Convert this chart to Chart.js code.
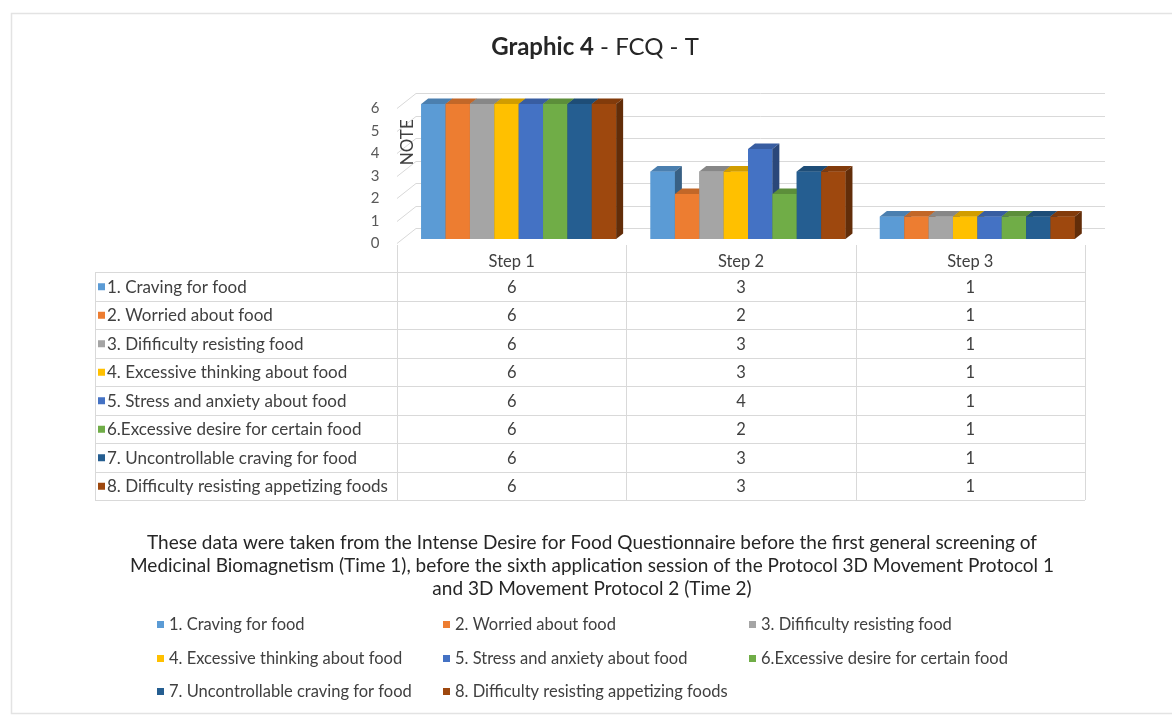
<!DOCTYPE html>
<html>
<head>
<meta charset="utf-8">
<script src="https://cdn.jsdelivr.net/npm/chart.js@4.4.0/dist/chart.umd.min.js"></script>
<style>
  html, body { margin: 0; padding: 0; background: #fff; }
  #wrap { width: 1172px; height: 715px; position: relative; }
</style>
</head>
<body>
<div id="wrap"><canvas id="chart"></canvas></div>
<script>
// data
const steps = ['Step 1', 'Step 2', 'Step 3'];
const yTicks = [0, 1, 2, 3, 4, 5, 6];
const seriesNames = [
  '1. Craving for food',
  '2. Worried about food',
  '3. Dif' + 'ificulty resisting food',
  '4. Excessive thinking about food',
  '5. Stress and anxiety about food',
  '6.Excessive desire for certain food',
  '7. Uncontrollable craving for food',
  '8. Difficulty resisting appetizing foods'
];
const cravingForFood = [6, 3, 1];
const worriedAboutFood = [6, 2, 1];
const difficultyResistingFood = [6, 3, 1];
const excessiveThinking = [6, 3, 1];
const stressAndAnxiety = [6, 4, 1];
const excessiveDesire = [6, 2, 1];
const uncontrollableCraving = [6, 3, 1];
const difficultyAppetizing = [6, 3, 1];
const seriesValues = [cravingForFood, worriedAboutFood, difficultyResistingFood, excessiveThinking,
  stressAndAnxiety, excessiveDesire, uncontrollableCraving, difficultyAppetizing];
const noteLines = [
  'These data were taken from the Intense Desire for Food Questionnaire before the first general screening of',
  'Medicinal Biomagnetism (Time 1), before the sixth application session of the Protocol 3D Movement Protocol 1',
  'and 3D Movement Protocol 2 (Time 2)'
];

const colors = ['#5b9bd5', '#ed7d31', '#a5a5a5', '#ffc000', '#4472c4', '#70ad47', '#255e91', '#9e480e'];
const FONT = 'Lato, "Liberation Sans", sans-serif';
const TEXT = '#404040';
const LINE = '#d9d9d9';
const DX = 7, DY = 5.5;   // bar depth
const WX = 19, WY = 11;   // wall depth
const SHIFT = 7;          // table / floor sit a little left of the bars

function shade(hex, f) {
  const n = parseInt(hex.slice(1), 16);
  const r = Math.round(((n >> 16) & 255) * f);
  const g = Math.round(((n >> 8) & 255) * f);
  const b = Math.round((n & 255) * f);
  return `rgb(${r},${g},${b})`;
}
function seg(ctx, x1, y1, x2, y2) {
  ctx.beginPath(); ctx.moveTo(x1, y1); ctx.lineTo(x2, y2); ctx.stroke();
}
function poly(ctx, pts, fill) {
  ctx.beginPath();
  ctx.moveTo(pts[0][0], pts[0][1]);
  for (let i = 1; i < pts.length; i++) ctx.lineTo(pts[i][0], pts[i][1]);
  ctx.closePath();
  ctx.fillStyle = fill; ctx.fill();
}

const excelLook = {
  id: 'excelLook',
  beforeDraw(chart) {
    const ctx = chart.ctx;
    ctx.save();
    ctx.fillStyle = '#fff';
    ctx.fillRect(0, 0, chart.width, chart.height);
    ctx.strokeStyle = '#e3e3e3';
    ctx.lineWidth = 1.5;
    ctx.strokeRect(11.5, 13.5, chart.width + 10, chart.height - 15);
    ctx.restore();
  },
  beforeDatasetsDraw(chart) {
    const ctx = chart.ctx, ys = chart.scales.y, a = chart.chartArea;
    const wl = a.left - SHIFT;
    ctx.save();
    ctx.strokeStyle = LINE; ctx.lineWidth = 1;
    ctx.font = '15px ' + FONT; ctx.fillStyle = '#595959';
    ctx.textAlign = 'center'; ctx.textBaseline = 'middle';
    yTicks.forEach(v => {
      const y = Math.round(ys.getPixelForValue(v)) + 0.5;
      seg(ctx, wl, y + 4, wl + WX, y - WY);
      seg(ctx, wl + WX, y - WY, a.right + 13, y - WY);
      ctx.fillText(String(v), wl - 22, y + 4);
    });
    // axis title
    ctx.save();
    ctx.translate(wl + 11, ys.getPixelForValue(4.3));
    ctx.rotate(-Math.PI / 2);
    ctx.fillStyle = TEXT;
    ctx.font = '17px ' + FONT;
    ctx.fillText('NOTE', 0, 0);
    ctx.restore();
    ctx.restore();
  },
  afterDatasetsDraw(chart) {
    const ctx = chart.ctx;
    ctx.save();
    for (let j = 0; j < steps.length; j++) {
      for (let i = 0; i < seriesValues.length; i++) {
        const el = chart.getDatasetMeta(i).data[j];
        const p = el.getProps(['x', 'y', 'base', 'width'], true);
        const l = p.x - p.width / 2, r = p.x + p.width / 2;
        poly(ctx, [[l, p.y], [r, p.y], [r, p.base], [l, p.base]], colors[i]);
        poly(ctx, [[l, p.y], [l + DX, p.y - DY], [r + DX, p.y - DY], [r, p.y]], shade(colors[i], 0.82));
        poly(ctx, [[r, p.y], [r + DX, p.y - DY], [r + DX, p.base - DY], [r, p.base]], shade(colors[i], 0.62));
      }
    }
    ctx.restore();
  },
  afterDraw(chart) {
    const ctx = chart.ctx, xs = chart.scales.x;
    ctx.save();
    // title
    ctx.textBaseline = 'middle';
    ctx.fillStyle = '#262626';
    ctx.font = 'bold 24px ' + FONT;
    const t1 = 'Graphic 4';
    const w1 = ctx.measureText(t1).width;
    ctx.font = '24px ' + FONT;
    const t2 = ' - FCQ - T';
    const w2 = ctx.measureText(t2).width;
    const tx = 595 - (w1 + w2) / 2;
    ctx.textAlign = 'left';
    ctx.font = 'bold 24px ' + FONT;
    ctx.fillText(t1, tx, 47);
    ctx.font = '24px ' + FONT;
    ctx.fillText(t2, tx + w1, 47);

    // data table
    const half = (xs.getPixelForValue(1) - xs.getPixelForValue(0)) / 2;
    const colX = j => xs.getPixelForValue(j) - SHIFT;
    const tLeft = 95, rowTop = 272, rowH = 28.5;
    const tRight = colX(steps.length - 1) + half;
    const tBottom = rowTop + rowH * seriesValues.length;
    ctx.strokeStyle = LINE; ctx.lineWidth = 1;
    for (let k = 0; k <= seriesValues.length; k++) {
      const y = Math.round(rowTop + rowH * k) + 0.5;
      seg(ctx, tLeft, y, tRight, y);
    }
    seg(ctx, tLeft + 0.5, rowTop, tLeft + 0.5, tBottom);
    for (let j = 0; j <= steps.length; j++) {
      const x = Math.round(colX(0) - half + 2 * half * j) + 0.5;
      seg(ctx, x, 245, x, tBottom);
    }
    ctx.font = '16.5px ' + FONT;
    ctx.fillStyle = TEXT;
    ctx.textAlign = 'center';
    steps.forEach((s, j) => ctx.fillText(s, colX(j), 262));
    seriesValues.forEach((vals, i) => {
      const cy = rowTop + rowH * i + rowH / 2 + 1;
      ctx.font = '16.5px ' + FONT;
      vals.forEach((v, j) => {
        ctx.fillStyle = TEXT; ctx.textAlign = 'center';
        ctx.fillText(String(v), colX(j), cy);
      });
      ctx.fillStyle = colors[i];
      ctx.fillRect(98, cy - 4, 7, 7);
      ctx.font = '17px ' + FONT;
      ctx.fillStyle = TEXT; ctx.textAlign = 'left';
      ctx.fillText(seriesNames[i], 107, cy);
    });

    // notes
    ctx.font = '19px ' + FONT;
    ctx.fillStyle = '#262626';
    ctx.textAlign = 'center';
    noteLines.forEach((s, k) => ctx.fillText(s, 592, 543 + 23 * k));

    // bottom legend
    const legX = [157, 443, 749], legY = [625, 659, 692];
    ctx.font = '16.5px ' + FONT;
    seriesNames.forEach((s, i) => {
      const x = legX[i % 3], y = legY[Math.floor(i / 3)];
      ctx.fillStyle = colors[i];
      ctx.fillRect(x, y - 4, 7, 7);
      ctx.fillStyle = TEXT; ctx.textAlign = 'left';
      ctx.fillText(s, x + 12, y);
    });
    ctx.restore();
  }
};

new Chart(document.getElementById('chart'), {
  type: 'bar',
  data: {
    labels: steps,
    datasets: seriesValues.map((vals, i) => ({
      label: seriesNames[i],
      data: vals,
      backgroundColor: colors[i],
      borderWidth: 0
    }))
  },
  options: {
    responsive: true,
    maintainAspectRatio: false,
    animation: false,
    devicePixelRatio: 1,
    layout: { padding: { left: 404, right: 80, top: 104, bottom: 476 } },
    datasets: { bar: { categoryPercentage: 0.85, barPercentage: 1.0 } },
    plugins: { legend: { display: false }, title: { display: false }, tooltip: { enabled: false } },
    scales: {
      x: { display: false },
      y: { display: false, min: 0, max: 6 }
    }
  },
  plugins: [excelLook]
});
</script>
</body>
</html>
